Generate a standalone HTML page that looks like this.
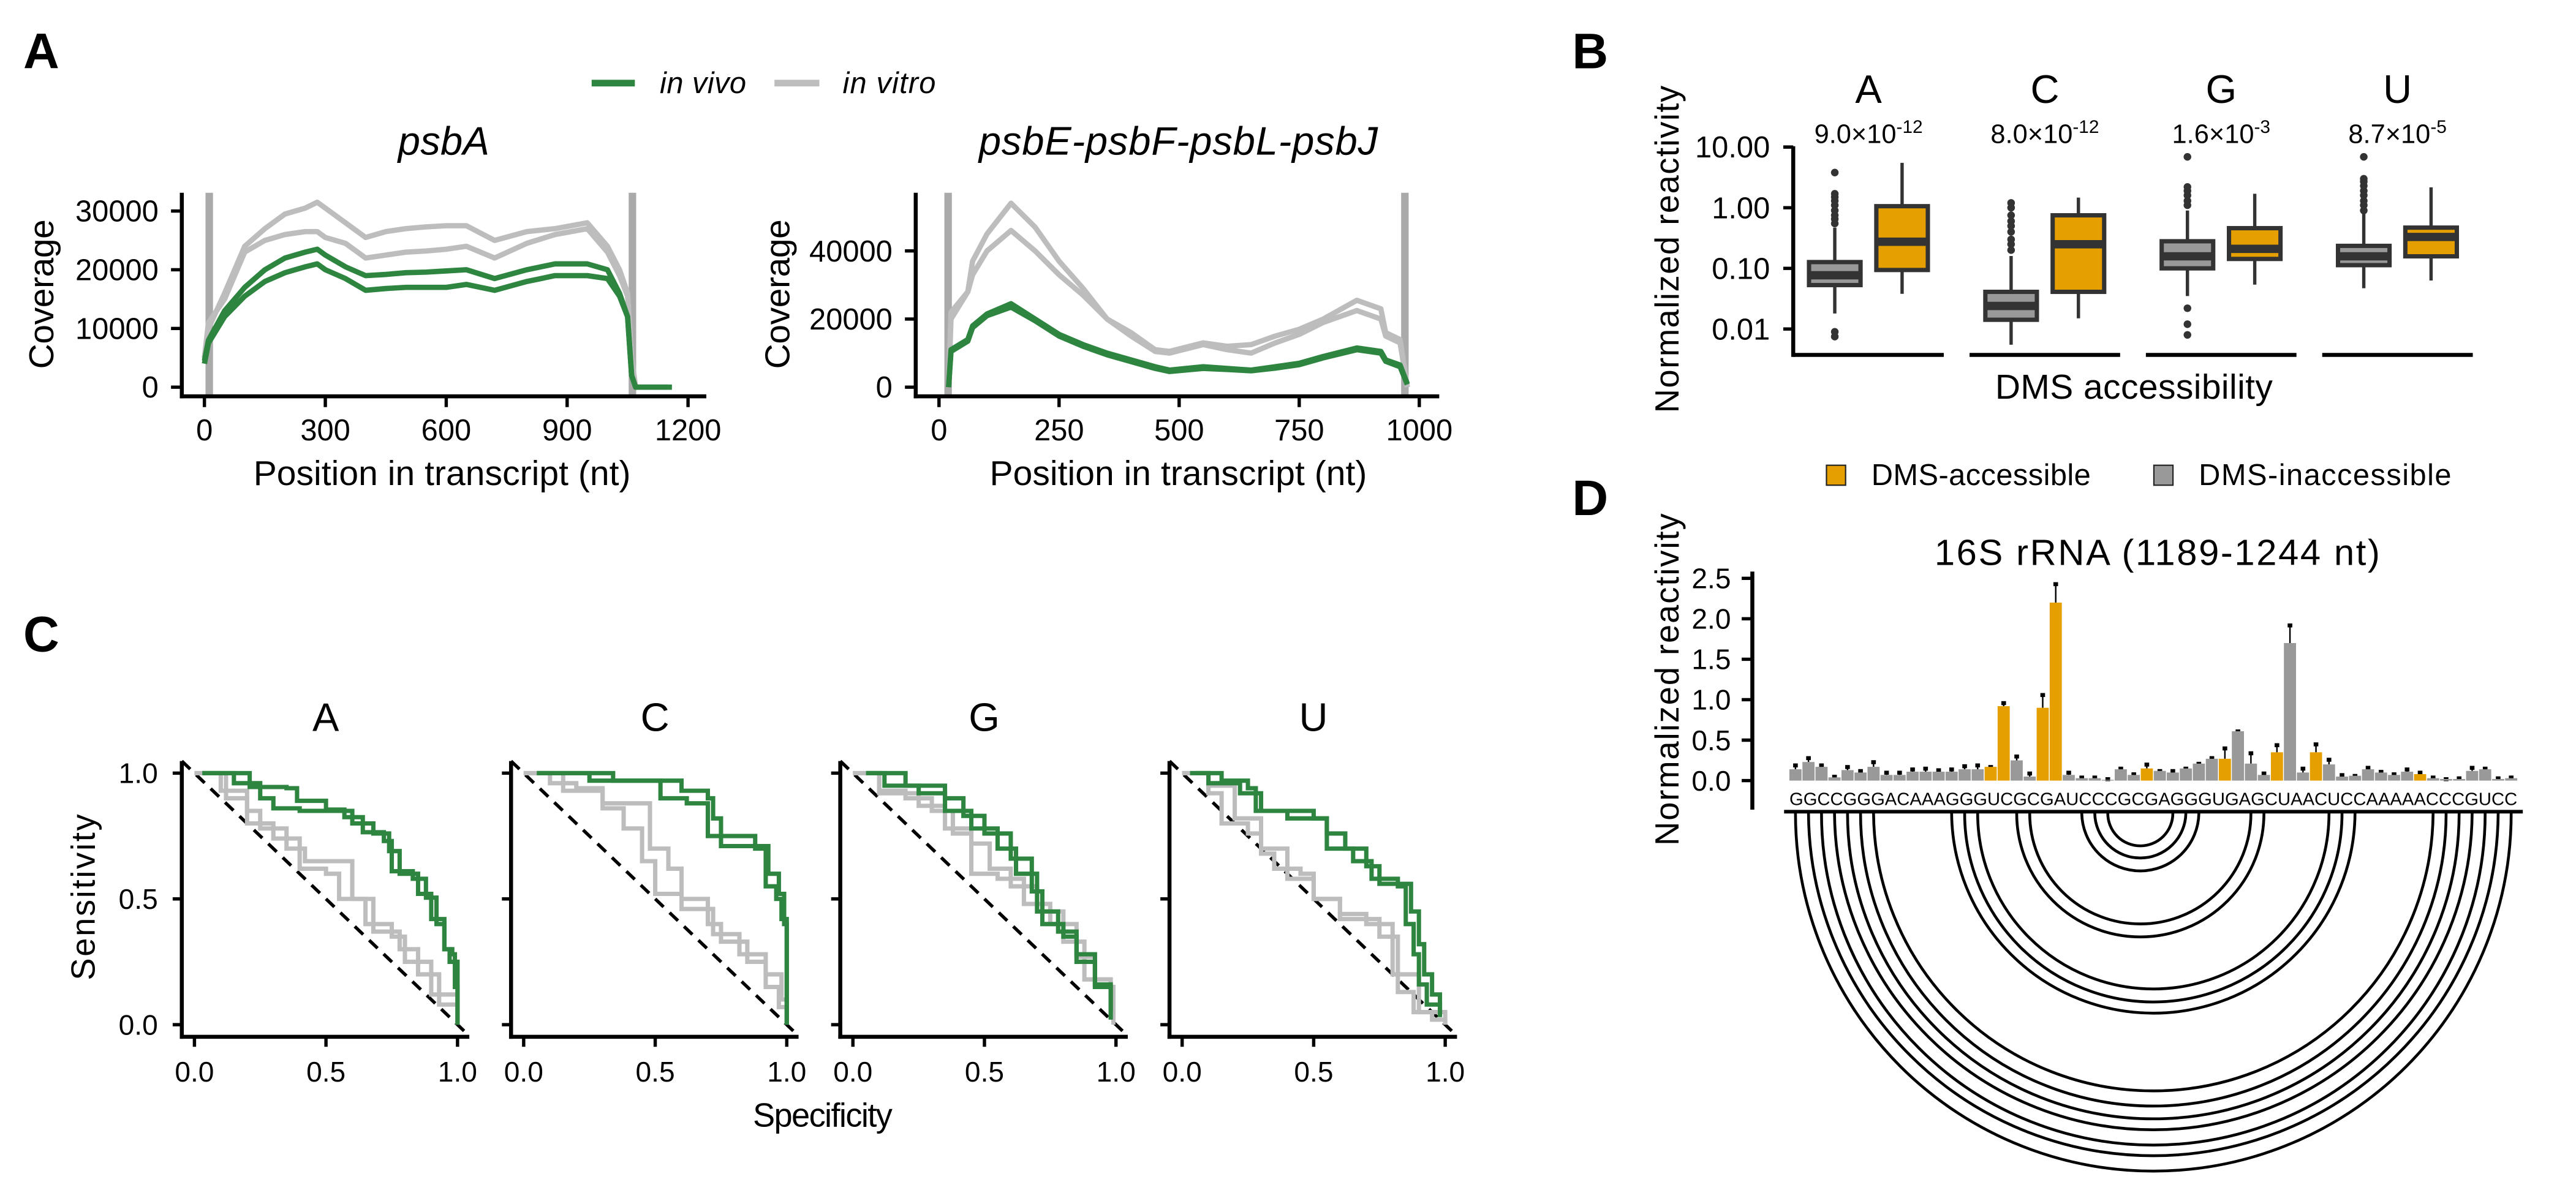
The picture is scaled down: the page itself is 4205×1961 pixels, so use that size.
<!DOCTYPE html>
<html><head><meta charset="utf-8"><style>
html,body{margin:0;padding:0;background:#fff;}
svg{display:block;}
text{font-family:"Liberation Sans",sans-serif;fill:#000;}
</style></head><body>
<svg id="fig" xmlns="http://www.w3.org/2000/svg" width="4205" height="1961" viewBox="0 0 1550 722.8">
<rect x="0" y="0" width="1550" height="722.8" fill="#fff"/>
<!-- panel labels -->
<text x="14" y="41" font-size="30" font-weight="bold">A</text>
<text x="946" y="41" font-size="30" font-weight="bold">B</text>
<text x="14" y="392" font-size="30" font-weight="bold">C</text>
<text x="946" y="310" font-size="30" font-weight="bold">D</text>
<!-- legend A -->
<g>
<line x1="356" y1="50" x2="382" y2="50" stroke="#2e8540" stroke-width="4"/>
<text x="397" y="56" font-size="18" font-style="italic" textLength="52">in vivo</text>
<line x1="466" y1="50" x2="493" y2="50" stroke="#bdbdbd" stroke-width="4"/>
<text x="507" y="56" font-size="18" font-style="italic" textLength="56">in vitro</text>
</g>
<text x="267" y="93" font-size="24" font-style="italic" text-anchor="middle" textLength="55">psbA</text>
<text x="709" y="93" font-size="24" font-style="italic" text-anchor="middle" textLength="240">psbE-psbF-psbL-psbJ</text>
<text transform="translate(32,177) rotate(-90)" font-size="21" text-anchor="middle" textLength="90">Coverage</text>
<text transform="translate(475,177) rotate(-90)" font-size="21" text-anchor="middle" textLength="90">Coverage</text>
<text x="266" y="292" font-size="21" text-anchor="middle" textLength="227">Position in transcript (nt)</text>
<text x="709" y="292" font-size="21" text-anchor="middle" textLength="227">Position in transcript (nt)</text>
<!-- B text -->
<text transform="translate(1010,150) rotate(-90)" font-size="20" text-anchor="middle" textLength="197">Normalized reactivity</text>
<text x="1284" y="240" font-size="21" text-anchor="middle" textLength="167">DMS accessibility</text>
<g>
<rect x="1099" y="280" width="11.5" height="12" fill="#E69F00" stroke="#222" stroke-width="0.8"/>
<text x="1126" y="292" font-size="18" textLength="132">DMS-accessible</text>
<rect x="1296" y="280" width="11.5" height="12" fill="#999999" stroke="#222" stroke-width="0.8"/>
<text x="1323" y="292" font-size="18" textLength="152">DMS-inaccessible</text>
</g>
<!-- C text -->
<text transform="translate(57,540) rotate(-90)" font-size="20" text-anchor="middle" textLength="100">Sensitivity</text>
<text x="495" y="678" font-size="20" text-anchor="middle" textLength="84">Specificity</text>
<!-- D text -->
<text x="1298" y="340" font-size="22" text-anchor="middle" textLength="268">16S rRNA (1189-1244 nt)</text>
<text transform="translate(1010,409) rotate(-90)" font-size="20" text-anchor="middle" textLength="200">Normalized reactivity</text>
<g id="layer"></g>
</svg>
<script>
// ================= DATA =================
// Panel A: psbA coverage (x in nt, y coverage)
const psbaX = [0,10,50,100,150,200,250,280,300,350,400,450,500,550,600,650,720,800,870,950,1000,1030,1050,1060,1070,1150];
const psbaVivo1 = [4500,8000,13000,17000,20000,22000,23000,23500,22500,20500,19000,19200,19500,19600,19800,20000,18500,20000,21000,21000,20000,16000,12000,2000,0,0];
const psbaVivo2 = [4000,7500,12000,15500,18000,19500,20500,21000,20000,18500,16500,16800,17000,17000,17000,17500,16500,18000,19000,19000,18500,15500,12000,2000,0,0];
const psbaVitro1 = [5000,10000,16000,24000,27000,29500,30500,31500,30500,28000,25500,26500,27000,27300,27500,27500,25000,26500,27000,28000,24000,20000,16000,5000,0,0];
const psbaVitro2 = [5000,11000,15000,23000,25000,26000,26500,26500,25500,24500,22000,22500,23000,23200,23500,24000,22000,24500,26000,27000,23000,19000,15500,4000,0,0];
const psbaXTicks = [0,300,600,900,1200];
const psbaYTicks = [0,10000,20000,30000];
const psbaGuides = [12,1062];
// Panel A: psbE operon coverage
const psbeX = [20,25,60,70,100,150,200,250,300,350,400,450,480,550,600,650,700,750,800,870,920,930,960,975];
const psbeVivo1 = [0,11000,14000,18000,21500,24500,20000,15500,12500,10000,8000,6000,5000,6000,5500,5000,6000,7000,9000,11500,10500,8000,6500,1000];
const psbeVivo2 = [0,10500,13500,17500,21000,23500,19500,15000,12000,9500,7500,5500,4600,5500,5200,4800,5600,6600,8600,11000,10000,7600,6000,800];
const psbeVitro1 = [0,20000,28000,37000,45000,54000,47000,37000,29000,20000,16000,11000,10500,13000,12000,12500,15000,17000,20000,25500,23000,16000,14000,0];
const psbeVitro2 = [0,22000,28000,33000,40000,46000,40000,33000,27000,20000,15000,10500,10000,12500,11000,10000,13000,15500,19000,22500,20000,15000,13000,0];
const psbeXTicks = [0,250,500,750,1000];
const psbeYTicks = [0,20000,40000];
const psbeGuides = [19,970];

// Panel B: boxplots [lower whisker, Q1, median, Q3, upper whisker]
const bNucleotides = ['A','C','G','U'];
const bPvalMant = ['9.0','8.0','1.6','8.7'];
const bPvalExp = ['-12','-12','-3','-5'];
const bInacc = [[0.018,0.053,0.077,0.127,0.47],[0.0055,0.0142,0.024,0.041,0.16],[0.035,0.10,0.158,0.28,0.9],[0.047,0.113,0.158,0.235,0.8]];
const bAcc = [[0.038,0.094,0.275,1.06,5.5],[0.015,0.041,0.25,0.75,1.47],[0.054,0.143,0.21,0.46,1.7],[0.063,0.158,0.33,0.47,2.17]];
const bOutInacc = [[0.55,0.65,0.75,0.9,1.1,1.3,1.5,1.7,3.8,0.009,0.0075],[0.2,0.25,0.3,0.4,0.5,0.6,0.75,1.0,1.2],[1.1,1.3,1.6,1.9,2.2,6.9,0.022,0.012,0.008],[0.9,1.1,1.3,1.6,1.9,2.3,2.7,3.0,6.9]];
const bYTicks = [0.01,0.1,1,10];
const bYTickLabels = ['0.01','0.10','1.00','10.00'];

// Panel C: ROC curves [specificity, sensitivity] pairs per nucleotide
const cFacets = ['A','C','G','U'];
const rocVivo1 = [
 [[0.03,1],[0.21,0.945],[0.35,0.94],[0.39,0.89],[0.5,0.855],[0.57,0.825],[0.64,0.765],[0.72,0.73],[0.75,0.61],[0.83,0.58],[0.88,0.505],[0.92,0.4],[0.95,0.3],[0.98,0.28],[0.99,0.15],[1,0]],
 [[0.05,1],[0.34,1],[0.34,0.97],[0.5,0.97],[0.6,0.93],[0.7,0.9],[0.72,0.82],[0.75,0.71],[0.9,0.71],[0.93,0.6],[0.97,0.52],[0.99,0.4],[1,0]],
 [[0.05,1],[0.17,1],[0.2,0.95],[0.35,0.9],[0.42,0.83],[0.5,0.76],[0.6,0.66],[0.68,0.53],[0.72,0.4],[0.8,0.35],[0.85,0.25],[0.92,0.16],[0.98,0.05]],
 [[0.05,1],[0.12,1],[0.15,0.97],[0.25,0.94],[0.28,0.85],[0.45,0.85],[0.5,0.82],[0.55,0.76],[0.62,0.7],[0.7,0.63],[0.75,0.56],[0.85,0.56],[0.87,0.45],[0.9,0.32],[0.92,0.2],[0.95,0.12],[0.98,0.05]]
];
const rocVivo2 = [
 [[0.03,1],[0.15,0.96],[0.25,0.9],[0.3,0.86],[0.4,0.85],[0.55,0.85],[0.6,0.8],[0.68,0.76],[0.74,0.69],[0.78,0.6],[0.85,0.52],[0.9,0.42],[0.95,0.3],[0.97,0.25],[1,0]],
 [[0.05,1],[0.25,1],[0.25,0.97],[0.42,0.97],[0.52,0.9],[0.62,0.88],[0.7,0.75],[0.88,0.7],[0.92,0.55],[0.96,0.5],[0.98,0.42],[1,0.3],[1,0]],
 [[0.05,1],[0.12,0.95],[0.25,0.92],[0.35,0.85],[0.45,0.78],[0.55,0.7],[0.62,0.6],[0.7,0.45],[0.78,0.37],[0.85,0.28],[0.92,0.15],[0.98,0.02]],
 [[0.03,1],[0.1,0.96],[0.22,0.92],[0.3,0.85],[0.4,0.82],[0.5,0.82],[0.55,0.7],[0.65,0.65],[0.72,0.58],[0.82,0.55],[0.85,0.4],[0.88,0.28],[0.9,0.16],[0.93,0.08],[0.98,0.03]]
];
const rocVitro1 = [
 [[0,1],[0.1,0.93],[0.2,0.85],[0.25,0.78],[0.35,0.7],[0.42,0.65],[0.52,0.65],[0.6,0.5],[0.68,0.37],[0.78,0.3],[0.85,0.2],[0.93,0.08],[1,0]],
 [[0,1],[0.1,0.96],[0.2,0.94],[0.3,0.88],[0.45,0.88],[0.48,0.7],[0.55,0.62],[0.6,0.5],[0.7,0.4],[0.75,0.33],[0.85,0.25],[0.92,0.2],[0.98,0.1],[1,0]],
 [[0,1],[0.1,0.93],[0.2,0.9],[0.3,0.85],[0.38,0.76],[0.45,0.72],[0.52,0.62],[0.6,0.55],[0.7,0.45],[0.8,0.33],[0.88,0.18],[0.98,0.03]],
 [[0,1],[0.1,0.92],[0.15,0.8],[0.25,0.76],[0.3,0.68],[0.35,0.62],[0.45,0.6],[0.5,0.5],[0.6,0.44],[0.7,0.4],[0.8,0.2],[0.9,0.05],[1,0]]
];
const rocVitro2 = [
 [[0,1],[0.12,0.9],[0.2,0.8],[0.3,0.74],[0.4,0.62],[0.5,0.6],[0.55,0.5],[0.65,0.4],[0.75,0.35],[0.8,0.25],[0.9,0.12],[1,0]],
 [[0,1],[0.15,0.93],[0.3,0.86],[0.38,0.78],[0.45,0.65],[0.5,0.52],[0.6,0.46],[0.72,0.36],[0.82,0.28],[0.92,0.15],[0.97,0.07],[1,0]],
 [[0,1],[0.1,0.92],[0.25,0.87],[0.35,0.78],[0.45,0.6],[0.55,0.58],[0.65,0.48],[0.75,0.4],[0.85,0.27],[0.92,0.15],[0.99,0]],
 [[0,1],[0.1,0.95],[0.2,0.82],[0.3,0.7],[0.4,0.58],[0.5,0.5],[0.6,0.42],[0.75,0.35],[0.82,0.13],[0.88,0.05],[0.95,0.02],[1,0]]
];
const cTicks = [0,0.5,1];
const cTickLabels = ['0.0','0.5','1.0'];

// Panel D: reactivity per nucleotide
const dSequence = 'GGCCGGGACAAAGGGUCGCGAUCCCGCGAGGGUGAGCUAACUCCAAAAACCCGUCC';
const dReact = [0.14,0.23,0.17,0.04,0.13,0.10,0.17,0.07,0.07,0.11,0.11,0.11,0.11,0.14,0.14,0.17,0.92,0.25,0.05,0.90,2.2,0.07,0.03,0.03,0.01,0.14,0.07,0.15,0.12,0.10,0.15,0.21,0.27,0.27,0.61,0.21,0.07,0.35,1.7,0.10,0.35,0.20,0.05,0.06,0.14,0.10,0.07,0.11,0.08,0.03,0.02,0.02,0.12,0.14,0.02,0.03];
const dErr = [0.06,0.06,0.03,0.02,0.05,0.03,0.07,0.04,0.04,0.04,0.05,0.03,0.04,0.05,0.06,0.01,0.05,0.06,0.05,0.17,0.24,0.04,0.02,0.02,0.02,0.02,0.02,0.06,0.01,0.03,0.01,0.01,0.02,0.14,0.01,0.14,0.03,0.1,0.23,0.06,0.11,0.07,0.03,0.01,0.03,0.02,0.02,0.04,0.03,0.02,0.01,0.02,0.05,0.02,0.02,0.02];
const dAccessible = [16,17,20,21,28,34,38,41,49];
const dPairs = [[1,56],[2,55],[3,54],[4,53],[5,52],[6,51],[7,50],[13,44],[14,43],[15,42],[18,37],[19,36],[23,32],[24,31],[25,30]];
const dYTicks = [0,0.5,1,1.5,2,2.5];
const dYTickLabels = ['0.0','0.5','1.0','1.5','2.0','2.5'];

// ================= DRAWING =================
const NS='http://www.w3.org/2000/svg';
const layer=document.getElementById('layer');
function mk(tag,attrs,parent){const e=document.createElementNS(NS,tag);for(const k in attrs)e.setAttribute(k,attrs[k]);(parent||layer).appendChild(e);return e;}
const GREEN='#2e8540',GRAY='#bdbdbd',ORANGE='#E69F00',BGRAY='#999999',DARK='#333333';

// ---- Panel A ----
function coveragePanel(id,xs,series,xTicks,yTicks,guides,sx,sy,ax){
  const g=mk('g',{});
  
  
  guides.forEach(v=>{
    const l=mk('line',{x1:sx(v),x2:sx(v),y1:ax.top,y2:ax.bottom,stroke:'#aaaaaa','stroke-width':4.5},g);
    
    
  });
  series.forEach(s=>{
    const pts=xs.map((x,i)=>sx(x).toFixed(2)+','+sy(s.v[i]).toFixed(2)).join(' ');
    const p=mk('polyline',{points:pts,fill:'none',stroke:s.c,'stroke-width':3.2,'stroke-linejoin':'round'},g);
    
    
  });
  const ya=mk('line',{x1:ax.left,x2:ax.left,y1:ax.top,y2:ax.bottom+1.2,stroke:'#000','stroke-width':2.4},g);
  
  
  const xa=mk('line',{x1:ax.left-1.2,x2:ax.right,y1:ax.bottom,y2:ax.bottom,stroke:'#000','stroke-width':2.4},g);
  
  
  xTicks.forEach(v=>{
    const t=mk('line',{x1:sx(v),x2:sx(v),y1:ax.bottom,y2:ax.bottom+6.5,stroke:'#000','stroke-width':2},g);
    
    
    const tx=mk('text',{x:sx(v),y:265,'font-size':18,'text-anchor':'middle'},g);
    tx.textContent=String(v);
    
    
  });
  yTicks.forEach(v=>{
    const t=mk('line',{x1:ax.left-6.5,x2:ax.left,y1:sy(v),y2:sy(v),stroke:'#000','stroke-width':2},g);
    
    
    const tx=mk('text',{x:ax.left-14,y:sy(v)+6.3,'font-size':18,'text-anchor':'end'},g);
    tx.textContent=String(v);
    
    
  });
}
coveragePanel('psba',psbaX,[{v:psbaVitro1,c:GRAY,n:'psba-in-vitro-rep1'},{v:psbaVitro2,c:GRAY,n:'psba-in-vitro-rep2'},{v:psbaVivo1,c:GREEN,n:'psba-in-vivo-rep1'},{v:psbaVivo2,c:GREEN,n:'psba-in-vivo-rep2'}],
  psbaXTicks,psbaYTicks,psbaGuides,v=>123+v*0.2425,v=>233-v*106/30000,{left:109.4,right:425,top:116,bottom:238.5});
coveragePanel('psbe',psbeX,[{v:psbeVitro1,c:GRAY,n:'psbe-in-vitro-rep1'},{v:psbeVitro2,c:GRAY,n:'psbe-in-vitro-rep2'},{v:psbeVivo1,c:GREEN,n:'psbe-in-vivo-rep1'},{v:psbeVivo2,c:GREEN,n:'psbe-in-vivo-rep2'}],
  psbeXTicks,psbeYTicks,psbeGuides,v=>565+v*0.289,v=>233-v*41/20000,{left:551,right:866,top:116,bottom:238.5});
// psbA tail segment at zero
(function(){const sx=v=>123+v*0.2425;const t=mk('line',{x1:sx(1150),x2:sx(1160),y1:233,y2:233,stroke:GREEN,'stroke-width':3.2});

})();

// ---- Panel B ----
const bY=v=>198-36.5*(Math.log10(v)+2);
const bAxisX=1079;
const bAx=mk('line',{x1:bAxisX,x2:bAxisX,y1:88,y2:214.8,stroke:'#000','stroke-width':2.4});


bYTicks.forEach((v,i)=>{
  const t=mk('line',{x1:bAxisX-6,x2:bAxisX,y1:bY(v),y2:bY(v),stroke:'#000','stroke-width':2});
  
  
  const tx=mk('text',{x:1065,y:bY(v)+6.3,'font-size':18,'text-anchor':'end'});
  tx.textContent=bYTickLabels[i];
  
  
});
function drawBox(g,cx,stats,fill,name){
  const w=31;
  const wl=mk('line',{x1:cx,x2:cx,y1:bY(stats[0]),y2:bY(stats[4]),stroke:DARK,'stroke-width':2},g);
  
  
  const r=mk('rect',{x:cx-w/2,y:bY(stats[3]),width:w,height:bY(stats[1])-bY(stats[3]),fill:fill,stroke:DARK,'stroke-width':2.6},g);
  
  
  const m=mk('line',{x1:cx-w/2,x2:cx+w/2,y1:bY(stats[2]),y2:bY(stats[2]),stroke:DARK,'stroke-width':5},g);
  
  
}
bNucleotides.forEach((nt,f)=>{
  const x0=1079+f*106.1;
  const g=mk('g',{});
  
  
  const lab=mk('text',{x:x0+45.3,y:62,'font-size':24,'text-anchor':'middle'},g);
  lab.textContent=nt;
  
  
  const pv=mk('text',{x:x0+45.3,y:86,'font-size':16,'text-anchor':'middle'},g);
  
  
  const s1=mk('tspan',{},pv);s1.textContent=bPvalMant[f]+'×10';
  const s2=mk('tspan',{dy:-6,'font-size':11},pv);s2.textContent=bPvalExp[f];
  const xl=mk('line',{x1:x0,x2:x0+90.6,y1:213.6,y2:213.6,stroke:'#000','stroke-width':2.4},g);
  
  
  drawBox(g,x0+25,bInacc[f],BGRAY,'b-inaccessible-'+nt);
  drawBox(g,x0+65.5,bAcc[f],ORANGE,'b-accessible-'+nt);
  bOutInacc[f].forEach(v=>{
    const c=mk('circle',{cx:x0+25,cy:bY(v),r:2.3,fill:DARK},g);
    
    
  });
});

// ---- Panel C ----
cFacets.forEach((nt,f)=>{
  const axX=109.4+f*198.1;
  const sx=v=>axX+7.6+v*158.3;
  const sy=v=>616.7-v*151.4;
  const g=mk('g',{});
  
  
  const lab=mk('text',{x:axX+86.6,y:440,'font-size':24,'text-anchor':'middle'},g);
  lab.textContent=nt;
  
  
  const dl=mk('line',{x1:sx(-0.048),y1:sy(1.048),x2:sx(1.045),y2:sy(-0.045),stroke:'#000','stroke-width':2,'stroke-dasharray':'7,5'},g);
  
  
  [[rocVitro1,GRAY,'in-vitro-rep1'],[rocVitro2,GRAY,'in-vitro-rep2'],[rocVivo1,GREEN,'in-vivo-rep1'],[rocVivo2,GREEN,'in-vivo-rep2']].forEach(s=>{
    const pts=s[0][f];let d='M'+sx(pts[0][0]).toFixed(2)+','+sy(pts[0][1]).toFixed(2);
    for(let i=1;i<pts.length;i++){d+=' H'+sx(pts[i][0]).toFixed(2)+' V'+sy(pts[i][1]).toFixed(2);}
    const p=mk('path',{d:d,fill:'none',stroke:s[1],'stroke-width':2.6},g);
    
    
  });
  const ya=mk('line',{x1:axX,x2:axX,y1:458,y2:625.2,stroke:'#000','stroke-width':2.4},g);
  
  
  const xa=mk('line',{x1:axX-1.2,x2:axX+173,y1:624,y2:624,stroke:'#000','stroke-width':2.4},g);
  
  
  cTicks.forEach((v,i)=>{
    const t=mk('line',{x1:sx(v),x2:sx(v),y1:624,y2:630,stroke:'#000','stroke-width':2},g);
    
    
    const tx=mk('text',{x:sx(v),y:651,'font-size':17,'text-anchor':'middle'},g);
    tx.textContent=cTickLabels[i];
    
    
    const ty=mk('line',{x1:axX-5.5,x2:axX,y1:sy(v),y2:sy(v),stroke:'#000','stroke-width':2},g);
    
    
    if(f===0){
      const tl=mk('text',{x:95,y:sy(v)+6,'font-size':17,'text-anchor':'end'},g);
      tl.textContent=cTickLabels[i];
      
      
    }
  });
});

// ---- Panel D ----
const dY=v=>469.8-v*48.7;
const dX=i=>1076.7+7.83*i; // left edge of bar i (0-based)
const dAx=mk('line',{x1:1054.4,x2:1054.4,y1:344,y2:487.3,stroke:'#000','stroke-width':2.4});


dYTicks.forEach((v,i)=>{
  const t=mk('line',{x1:1048,x2:1054.4,y1:dY(v),y2:dY(v),stroke:'#000','stroke-width':2});
  
  
  const tx=mk('text',{x:1041.5,y:dY(v)+6,'font-size':17,'text-anchor':'end'});
  tx.textContent=dYTickLabels[i];
  
  
});
dReact.forEach((v,i)=>{
  const acc=dAccessible.indexOf(i+1)>=0;
  const cx=dX(i)+3.65;
  const top=dY(v+dErr[i]);
  const el=mk('line',{x1:cx,x2:cx,y1:dY(v),y2:top,stroke:'#000','stroke-width':0.9});
  
  
  const cap=mk('rect',{x:cx-1.4,y:top-0.6,width:2.8,height:2.4,fill:'#000'});
  
  
  const b=mk('rect',{x:dX(i),y:Math.min(dY(v),dY(0)),width:7.3,height:Math.abs(dY(0)-dY(v)),fill:acc?ORANGE:BGRAY});
  
  
});
const seq=mk('text',{x:dX(0),y:484.5,'font-size':10.5,textLength:(7.83*56-0.5).toFixed(1),lengthAdjust:'spacingAndGlyphs'});
seq.textContent=dSequence;


const bl=mk('line',{x1:1073.5,x2:1518,y1:488.5,y2:488.5,stroke:'#000','stroke-width':2.2});


dPairs.forEach(p=>{
  const x1=dX(p[0]-1)+3.65,x2=dX(p[1]-1)+3.65,r=(x2-x1)/2;
  const a=mk('path',{d:'M'+x1.toFixed(2)+',489.5 A'+r.toFixed(2)+','+r.toFixed(2)+' 0 0 0 '+x2.toFixed(2)+',489.5',fill:'none',stroke:'#000','stroke-width':1.7});
  
  
});
</script>
</body></html>
